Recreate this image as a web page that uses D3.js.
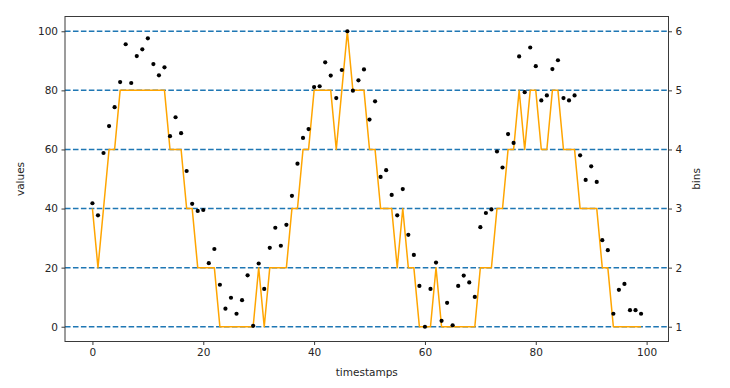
<!DOCTYPE html>
<html>
<head>
<meta charset="utf-8">
<script src="https://cdn.jsdelivr.net/npm/d3@7"></script>
<style>
  html, body { margin: 0; padding: 0; background: #fff; }
  svg text { font-family: "DejaVu Sans", sans-serif; fill: #262626; }
</style>
</head>
<body>
<svg id="chart" width="730" height="388"></svg>
<script>
// ---- data ----
const timestamps = d3.range(0, 100);
const values = [
  41.8, 37.7, 58.8, 67.9, 74.3, 82.8, 95.6, 82.5, 91.6, 93.9,
  97.6, 88.9, 85.1, 87.8, 64.5, 70.9, 65.5, 52.7, 41.6, 39.2,
  39.5, 21.5, 26.3, 14.2, 6.1, 9.8, 4.4, 9.0, 17.4, 0.3,
  21.4, 12.8, 26.7, 33.5, 27.4, 34.5, 44.3, 55.2, 63.9, 66.9,
  81.1, 81.4, 89.5, 85.0, 77.4, 86.9, 100.0, 79.9, 83.4, 87.1,
  70.1, 76.3, 50.7, 53.0, 44.6, 37.7, 46.6, 31.1, 24.3, 13.8,
  0.0, 12.8, 21.7, 2.0, 8.1, 0.5, 13.8, 17.3, 15.0, 10.1,
  33.7, 38.5, 39.7, 59.3, 53.9, 65.2, 62.2, 91.5, 79.4, 94.5,
  88.2, 76.6, 78.3, 87.2, 90.2, 77.4, 76.6, 78.3, 58.0, 49.7,
  54.3, 49.0, 29.3, 25.9, 4.4, 12.5, 14.5, 5.6, 5.6, 4.4
];
const bins = [
  3, 2, 3, 4, 4, 5, 5, 5, 5, 5,
  5, 5, 5, 5, 4, 4, 4, 3, 3, 2,
  2, 2, 2, 1, 1, 1, 1, 1, 1, 1,
  2, 1, 2, 2, 2, 2, 3, 3, 4, 4,
  5, 5, 5, 5, 4, 5, 6, 5, 5, 5,
  4, 4, 3, 3, 3, 2, 3, 2, 2, 1,
  1, 1, 2, 1, 1, 1, 1, 1, 1, 1,
  2, 2, 2, 3, 3, 4, 4, 5, 4, 5,
  5, 4, 4, 5, 5, 4, 4, 4, 3, 3,
  3, 3, 2, 2, 1, 1, 1, 1, 1, 1
];
const xTicks = [0, 20, 40, 60, 80, 100];
const yTicks = [0, 20, 40, 60, 80, 100];
const binTicks = [1, 2, 3, 4, 5, 6];

// ---- layout ----
const svg = d3.select("#chart");
const L = 65, R = 668.5, T = 16.5, B = 341.5;

const x = d3.scaleLinear().domain([-4.95, 103.95]).range([L, R]);
const y = d3.scaleLinear().domain([-5, 105]).range([B, T]);
const yb = d3.scaleLinear().domain([0.75, 6.25]).range([B, T]);

// dashed horizontal lines at bin levels
svg.append("g").selectAll("line").data(binTicks).join("line")
  .attr("x1", L).attr("x2", R)
  .attr("y1", d => yb(d)).attr("y2", d => yb(d))
  .attr("stroke", "#1f77b4").attr("stroke-width", 1.5)
  .attr("stroke-dasharray", "5.55,2.4");

// bins line
const line = d3.line().x((d, i) => x(timestamps[i])).y(d => yb(d));
svg.append("path").datum(bins)
  .attr("d", line)
  .attr("fill", "none")
  .attr("stroke", "#FFA500")
  .attr("stroke-width", 1.5)
  .attr("stroke-linejoin", "round");

// value points
svg.append("g").selectAll("circle").data(values).join("circle")
  .attr("cx", (d, i) => x(timestamps[i]))
  .attr("cy", d => y(d))
  .attr("r", 2.1)
  .attr("fill", "#000");

// frame
svg.append("rect")
  .attr("x", L).attr("y", T).attr("width", R - L).attr("height", B - T)
  .attr("fill", "none").attr("stroke", "#3a3a3a").attr("stroke-width", 1);

// axes
function styleAxis(g) {
  g.select(".domain").remove();
  g.selectAll(".tick line").attr("stroke", "#3a3a3a");
  g.selectAll(".tick text").attr("font-size", 10.5).attr("fill", "#262626")
    .attr("font-family", "DejaVu Sans, sans-serif");
}
svg.append("g").attr("transform", `translate(0,${B})`)
  .call(d3.axisBottom(x).tickValues(xTicks).tickSize(3.5).tickPadding(3.5).tickFormat(d3.format("d")))
  .call(styleAxis);
svg.append("g").attr("transform", `translate(${L},0)`)
  .call(d3.axisLeft(y).tickValues(yTicks).tickSize(3.5).tickPadding(3.5).tickFormat(d3.format("d")))
  .call(styleAxis);
svg.append("g").attr("transform", `translate(${R},0)`)
  .call(d3.axisRight(yb).tickValues(binTicks).tickSize(3.5).tickPadding(3.5).tickFormat(d3.format("d")))
  .call(styleAxis);

// axis titles
svg.append("text").attr("x", (L + R) / 2).attr("y", 376)
  .attr("text-anchor", "middle").attr("font-size", 10.5).text("timestamps");
svg.append("text").attr("transform", `translate(24,${(T + B) / 2}) rotate(-90)`)
  .attr("text-anchor", "middle").attr("font-size", 10.5).text("values");
svg.append("text").attr("transform", `translate(700,${(T + B) / 2}) rotate(-90)`)
  .attr("text-anchor", "middle").attr("font-size", 10.5).text("bins");
</script>
</body>
</html>
